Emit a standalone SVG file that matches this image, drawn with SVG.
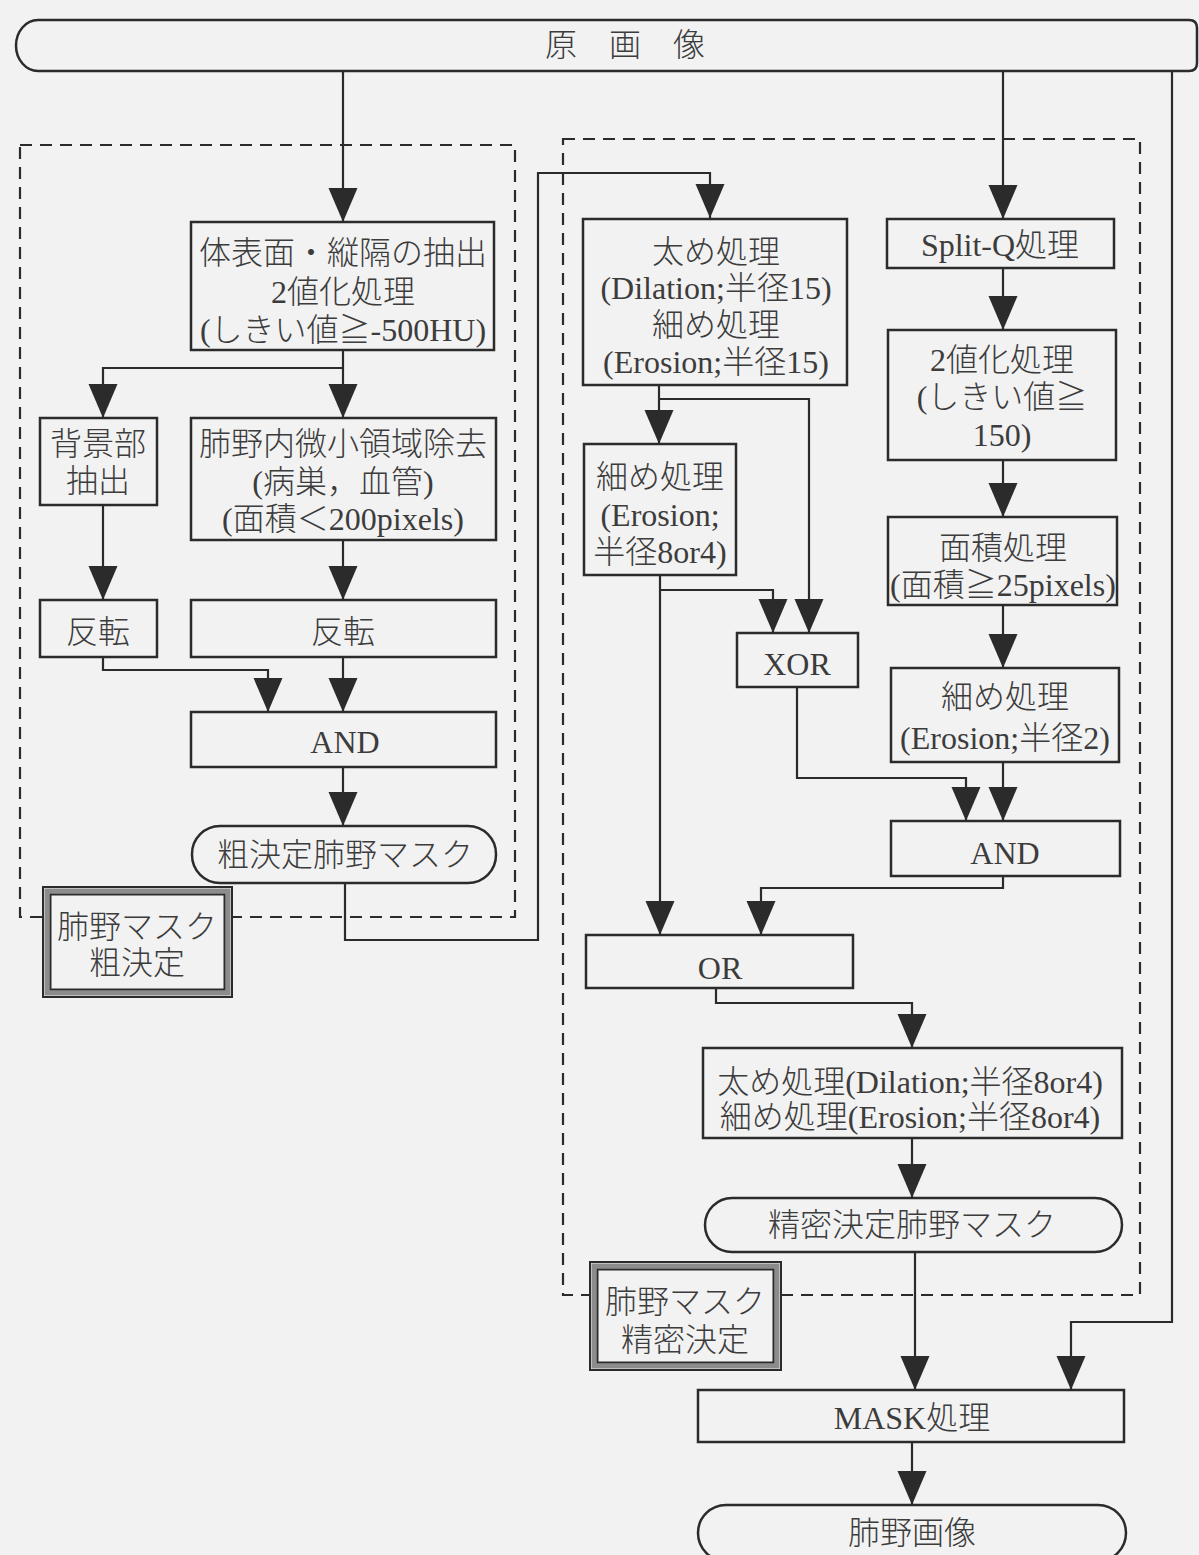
<svg xmlns="http://www.w3.org/2000/svg" width="1199" height="1555" viewBox="0 0 1199 1555">
  <defs>
    <marker id="arrow" markerUnits="userSpaceOnUse" markerWidth="36" markerHeight="30" refX="34" refY="14.5" orient="auto">
      <path d="M0,0 L34,14.5 L0,29 Z" fill="#2b2b2b"/>
    </marker>
    <style>
      .box { fill: none; stroke: #2b2b2b; stroke-width: 2.5; }
      .term { fill: none; stroke: #2b2b2b; stroke-width: 2.5; }
      .dash { fill: none; stroke: #2b2b2b; stroke-width: 2.2; stroke-dasharray: 12 8; }
      .wire { fill: none; stroke: #2b2b2b; stroke-width: 2.2; marker-end: url(#arrow); }
      .t { font-family: "Liberation Serif", "Noto Sans CJK JP", serif; font-size: 32px; font-weight: 300; fill: #3c3c3c; text-anchor: middle; }
      .lab-out { fill: #f2f2f2; stroke: #2b2b2b; stroke-width: 2; }
      .lab-band { fill: none; stroke: #8c8c8c; stroke-width: 5; }
      .lab-in { fill: none; stroke: #2b2b2b; stroke-width: 2; }
    </style>
  </defs>

  <rect x="0" y="0" width="1199" height="1555" fill="#f2f2f2"/>

  <!-- dashed group frames -->
  <g id="frames">
    <rect class="dash" x="20" y="145" width="495" height="772"/>
    <rect class="dash" x="563" y="139" width="577" height="1156"/>
  </g>

  <!-- connectors -->
  <g id="connectors">
    <path class="wire" d="M343,71 V222"/>
    <path class="wire" d="M1003,71 V219"/>
    <path class="wire" d="M1172,71 V1322 H1071 V1390"/>
    <path class="wire" d="M343,350 V418"/>
    <path class="wire" d="M343,368 H103 V418"/>
    <path class="wire" d="M103,505 V600"/>
    <path class="wire" d="M343,540 V600"/>
    <path class="wire" d="M103,657 V670 H268 V712"/>
    <path class="wire" d="M343,657 V712"/>
    <path class="wire" d="M343,767 V826"/>
    <path class="wire" d="M345,883 V940 H538 V173 H710 V218"/>
    <path class="wire" d="M659,385 V444"/>
    <path class="wire" d="M659,399 H809 V633"/>
    <path class="wire" d="M660,575 V935"/>
    <path class="wire" d="M660,590 H773 V633"/>
    <path class="wire" d="M1003,268 V330"/>
    <path class="wire" d="M1003,460 V517"/>
    <path class="wire" d="M1003,605 V668"/>
    <path class="wire" d="M797,687 V778 H966 V821"/>
    <path class="wire" d="M1003,762 V821"/>
    <path class="wire" d="M1003,876 V888 H761 V935"/>
    <path class="wire" d="M716,988 V1003 H912 V1048"/>
    <path class="wire" d="M912,1138 V1198"/>
    <path class="wire" d="M915,1252 V1390"/>
    <path class="wire" d="M912,1442 V1505"/>
  </g>

  <!-- source image terminal -->
  <g id="n-source">
    <path class="term" d="M38,20 H1189 Q1197,20 1197,28 V63 Q1197,71 1189,71 H38 A22,25.5 0 0 1 38,20 Z"/>
    <text class="t" x="625" y="56">原　画　像</text>
  </g>

  <g id="n-body">
    <rect class="box" x="191" y="222" width="303" height="128"/>
    <text class="t" x="343" y="264">体表面・縦隔の抽出</text>
    <text class="t" x="343" y="303">2値化処理</text>
    <text class="t" x="343" y="341">(しきい値≧-500HU)</text>
  </g>

  <g id="n-background">
    <rect class="box" x="40" y="418" width="117" height="87"/>
    <text class="t" x="98" y="455">背景部</text>
    <text class="t" x="98" y="492">抽出</text>
  </g>

  <g id="n-small-removal">
    <rect class="box" x="191" y="418" width="305" height="122"/>
    <text class="t" x="343" y="455">肺野内微小領域除去</text>
    <text class="t" x="343" y="493">(病巣，血管)</text>
    <text class="t" x="343" y="530">(面積＜200pixels)</text>
  </g>

  <g id="n-invert-a">
    <rect class="box" x="40" y="600" width="117" height="57"/>
    <text class="t" x="98" y="643">反転</text>
  </g>

  <g id="n-invert-b">
    <rect class="box" x="191" y="600" width="305" height="57"/>
    <text class="t" x="343" y="643">反転</text>
  </g>

  <g id="n-and-a">
    <rect class="box" x="191" y="712" width="305" height="55"/>
    <text class="t" x="345" y="753">AND</text>
  </g>

  <g id="n-rough-mask">
    <rect class="term" x="192" y="826" width="304" height="57" rx="28" ry="28"/>
    <text class="t" x="345" y="866">粗決定肺野マスク</text>
  </g>

  <g id="n-label-rough">
    <rect class="lab-out" x="43" y="887" width="189" height="110"/>
    <rect class="lab-band" x="47" y="891" width="181" height="102"/>
    <rect class="lab-in" x="50.5" y="894.5" width="174" height="95"/>
    <text class="t" x="137" y="938">肺野マスク</text>
    <text class="t" x="137" y="974">粗決定</text>
  </g>

  <g id="n-dilate15">
    <rect class="box" x="583" y="219" width="264" height="166"/>
    <text class="t" x="716" y="263">太め処理</text>
    <text class="t" x="716" y="299">(Dilation;半径15)</text>
    <text class="t" x="716" y="336">細め処理</text>
    <text class="t" x="716" y="373">(Erosion;半径15)</text>
  </g>

  <g id="n-splitq">
    <rect class="box" x="887" y="219" width="227" height="49"/>
    <text class="t" x="1000" y="256">Split-Q処理</text>
  </g>

  <g id="n-binarize">
    <rect class="box" x="888" y="330" width="228" height="130"/>
    <text class="t" x="1002" y="371">2値化処理</text>
    <text class="t" x="1002" y="408">(しきい値≧</text>
    <text class="t" x="1002" y="446">150)</text>
  </g>

  <g id="n-area">
    <rect class="box" x="888" y="517" width="229" height="88"/>
    <text class="t" x="1003" y="559">面積処理</text>
    <text class="t" x="1003" y="596">(面積≧25pixels)</text>
  </g>

  <g id="n-erode8">
    <rect class="box" x="584" y="444" width="152" height="131"/>
    <text class="t" x="660" y="488">細め処理</text>
    <text class="t" x="660" y="526">(Erosion;</text>
    <text class="t" x="660" y="563">半径8or4)</text>
  </g>

  <g id="n-xor">
    <rect class="box" x="737" y="633" width="121" height="54"/>
    <text class="t" x="797" y="675">XOR</text>
  </g>

  <g id="n-erode2">
    <rect class="box" x="891" y="668" width="228" height="94"/>
    <text class="t" x="1005" y="708">細め処理</text>
    <text class="t" x="1005" y="749">(Erosion;半径2)</text>
  </g>

  <g id="n-and-b">
    <rect class="box" x="891" y="821" width="229" height="55"/>
    <text class="t" x="1005" y="864">AND</text>
  </g>

  <g id="n-or">
    <rect class="box" x="586" y="935" width="267" height="53"/>
    <text class="t" x="720" y="979">OR</text>
  </g>

  <g id="n-closing">
    <rect class="box" x="703" y="1048" width="419" height="90"/>
    <text class="t" x="910" y="1093">太め処理(Dilation;半径8or4)</text>
    <text class="t" x="910" y="1128">細め処理(Erosion;半径8or4)</text>
  </g>

  <g id="n-fine-mask">
    <rect class="term" x="705" y="1198" width="417" height="54" rx="27" ry="27"/>
    <text class="t" x="912" y="1236">精密決定肺野マスク</text>
  </g>

  <g id="n-label-fine">
    <rect class="lab-out" x="590" y="1262" width="191" height="108"/>
    <rect class="lab-band" x="594" y="1266" width="183" height="100"/>
    <rect class="lab-in" x="597.5" y="1269.5" width="176" height="93"/>
    <text class="t" x="685" y="1313">肺野マスク</text>
    <text class="t" x="685" y="1351">精密決定</text>
  </g>

  <g id="n-mask">
    <rect class="box" x="698" y="1390" width="426" height="52"/>
    <text class="t" x="912" y="1429">MASK処理</text>
  </g>

  <g id="n-lung-image">
    <rect class="term" x="698" y="1505" width="428" height="56" rx="28" ry="28"/>
    <text class="t" x="912" y="1544">肺野画像</text>
  </g>
</svg>
